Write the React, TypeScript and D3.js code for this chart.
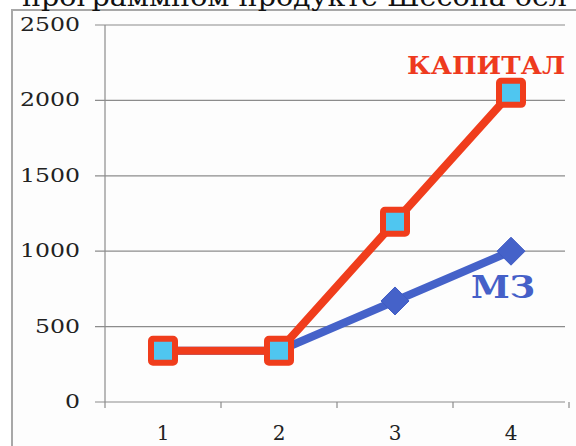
import React from "react";
import * as d3 from "d3";

const categories = ["1", "2", "3", "4"];
const kapital = [340, 340, 1195, 2050];
const mz = [340, 340, 670, 1000];
const yTicks = [0, 500, 1000, 1500, 2000, 2500];
const title = "программном продукте Шесона бел";

export default function App() {
  const W = 576, H = 446;
  const x = d3.scaleBand<string>().domain(categories).range([105, 569]);
  const y = d3.scaleLinear().domain([0, 2500]).range([402, 25]);
  const cx = (c: string) => (x(c) as number) + x.bandwidth() / 2;
  const line = d3.line<number>().x((_, i) => cx(categories[i])).y((v) => y(v));
  const serif = "'DejaVu Serif', 'Liberation Serif', serif";
  return (
    <svg width={W} height={H} style={{ position: "absolute", left: 0, top: 0, background: "#fff" }}>
      <rect x={12} y={10} width={600} height={460} fill="#fdfdfd" stroke="#a8a8a8" strokeWidth={2} />
      <text x={22} y={6} fontFamily={serif} fontSize={26} fill="#111" textLength={545} lengthAdjust="spacingAndGlyphs">{title}</text>
      {yTicks.map((t) => (
        <g key={t}>
          <line x1={95} x2={565} y1={y(t)} y2={y(t)} stroke="#8c8c8c" strokeWidth={1.2} />
          <text x={80} y={y(t) + 6} textAnchor="end" fontFamily={serif} fontSize={18} fill="#222" textLength={String(t).length * 15} lengthAdjust="spacingAndGlyphs">{t}</text>
        </g>
      ))}
      <line x1={105} x2={105} y1={y(2500)} y2={408} stroke="#8c8c8c" strokeWidth={1.2} />
      {[...categories.map((c) => (x(c) as number) + x.bandwidth())].map((px, i) => (
        <line key={i} x1={px} x2={px} y1={402} y2={408} stroke="#8c8c8c" strokeWidth={1.2} />
      ))}
      {categories.map((c) => (
        <text key={c} x={cx(c)} y={440} textAnchor="middle" fontFamily={serif} fontSize={20} fill="#222">{c}</text>
      ))}
      <path d={line(mz) as string} fill="none" stroke="#4562c9" strokeWidth={8} strokeLinejoin="round" />
      {mz.map((v, i) => {
        const px = cx(categories[i]), py = y(v), r = 14;
        return <path key={i} d={`M${px},${py - r}L${px + r},${py}L${px},${py + r}L${px - r},${py}Z`} fill="#4562c9" stroke="#3f5bc4" strokeWidth={1} />;
      })}
      <path d={line(kapital) as string} fill="none" stroke="#f03d1c" strokeWidth={8} strokeLinejoin="round" />
      {kapital.map((v, i) => {
        const px = cx(categories[i]), py = y(v);
        return (
          <g key={i}>
            <rect x={px - 12} y={py - 12} width={24} height={24} rx={2} fill="#4fc6f0" stroke="#f03d1c" strokeWidth={6} />
          </g>
        );
      })}
      <text x={565} y={74} textAnchor="end" fontFamily={serif} fontWeight="bold" fontSize={25} fill="#ee3a1e" textLength={158} lengthAdjust="spacingAndGlyphs">КАПИТАЛ</text>
      <text x={535} y={298} textAnchor="end" fontFamily={serif} fontWeight="bold" fontSize={32} fill="#4560c8" textLength={64} lengthAdjust="spacingAndGlyphs">МЗ</text>
    </svg>
  );
}
